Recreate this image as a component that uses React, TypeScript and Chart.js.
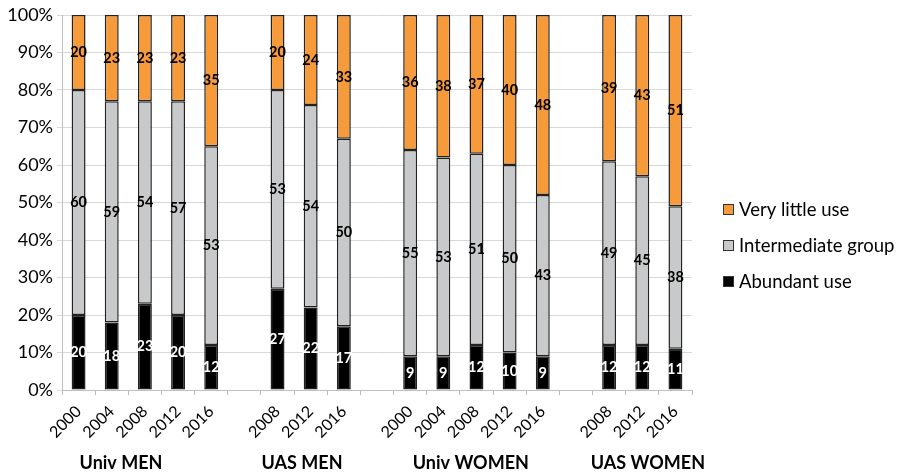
import React, { useEffect, useRef } from "react";
import { Chart, registerables } from "chart.js";

Chart.register(...registerables);

const categories = [
  "2000", "2004", "2008", "2012", "2016", "",
  "2008", "2012", "2016", "",
  "2000", "2004", "2008", "2012", "2016", "",
  "2008", "2012", "2016",
];

const abundantUse = [20, 18, 23, 20, 12, null, 27, 22, 17, null, 9, 9, 12, 10, 9, null, 12, 12, 11];
const intermediateGroup = [60, 59, 54, 57, 53, null, 53, 54, 50, null, 55, 53, 51, 50, 43, null, 49, 45, 38];
const veryLittleUse = [20, 23, 23, 23, 35, null, 20, 24, 33, null, 36, 38, 37, 40, 48, null, 39, 43, 51];

const groupNames = ["Univ MEN", "UAS MEN", "Univ WOMEN", "UAS WOMEN"];
const groupAnchors = [1.28, 6.74, 11.83, 17.17];

const yTicks = [0, 10, 20, 30, 40, 50, 60, 70, 80, 90, 100];

const FONT = "Lato, 'Open Sans', sans-serif";

const seriesColors = {
  abundant: "#000000",
  intermediate: "#c8c9ca",
  little: "#f79a3a",
};

const dataLabelPlugin = {
  id: "dataLabels",
  afterDatasetsDraw(chart: any) {
    const ctx = chart.ctx;
    ctx.save();
    ctx.font = `bold 14.5px ${FONT}`;
    ctx.textAlign = "center";
    ctx.textBaseline = "middle";
    chart.data.datasets.forEach((ds: any, di: number) => {
      const meta = chart.getDatasetMeta(di);
      meta.data.forEach((el: any, i: number) => {
        const v = ds.data[i];
        if (v === null || v === undefined) return;
        ctx.fillStyle = ds.labelColor;
        ctx.fillText(String(v), el.x, (el.y + el.base) / 2);
      });
    });
    ctx.restore();
  },
};

const extrasPlugin = {
  id: "extras",
  afterDraw(chart: any) {
    const ctx = chart.ctx;
    const area = chart.chartArea;
    const xs = chart.scales.x;
    ctx.save();
    // group labels
    ctx.font = `bold 18px ${FONT}`;
    ctx.fillStyle = "#000";
    ctx.textAlign = "center";
    ctx.textBaseline = "middle";
    groupNames.forEach((name, i) => {
      ctx.fillText(name, xs.getPixelForValue(groupAnchors[i]), area.bottom + 73);
    });
    // legend
    const items = [...chart.data.datasets].reverse();
    const mid = (area.top + area.bottom) / 2;
    ctx.font = `18.5px ${FONT}`;
    ctx.textAlign = "left";
    items.forEach((ds: any, i: number) => {
      const cy = mid + 7 + i * 36;
      const sx = area.right + 31;
      ctx.fillStyle = ds.backgroundColor;
      ctx.fillRect(sx, cy - 5.5, 11, 11);
      ctx.strokeStyle = "#333";
      ctx.lineWidth = 1;
      ctx.strokeRect(sx + 0.5, cy - 5, 10, 10);
      ctx.fillStyle = "#000";
      ctx.fillText(ds.label, sx + 16, cy + 1);
    });
    ctx.restore();
  },
};

export default function App() {
  const ref = useRef<HTMLCanvasElement | null>(null);
  useEffect(() => {
    if (!ref.current) return;
    const common = {
      borderColor: "#222",
      borderWidth: 1.5,
      borderSkipped: false,
      barPercentage: 0.42,
      categoryPercentage: 1,
    };
    const chart = new Chart(ref.current, {
      type: "bar",
      data: {
        labels: categories,
        datasets: [
          { label: "Abundant use", data: abundantUse, backgroundColor: seriesColors.abundant, labelColor: "#fff", ...common } as any,
          { label: "Intermediate group", data: intermediateGroup, backgroundColor: seriesColors.intermediate, labelColor: "#000", ...common } as any,
          { label: "Very little use", data: veryLittleUse, backgroundColor: seriesColors.little, labelColor: "#000", ...common } as any,
        ],
      },
      options: {
        responsive: false,
        animation: false,
        layout: { padding: { top: 15, right: 208, left: 0, bottom: 0 } },
        plugins: { legend: { display: false }, tooltip: { enabled: false } },
        scales: {
          x: {
            stacked: true,
            grid: { offset: true, drawOnChartArea: false, drawTicks: true, tickLength: 5, color: "#bfbfbf" },
            border: { color: "#bfbfbf" },
            ticks: { minRotation: 45, maxRotation: 45, autoSkip: false, color: "#000", font: { family: FONT, size: 16 }, padding: 7 },
            afterFit: (s: any) => { s.height = 85; },
          },
          y: {
            stacked: true,
            min: 0,
            max: 100,
            grid: { color: "#d9d9d9", tickLength: 5 },
            border: { color: "#bfbfbf" },
            afterBuildTicks: (s: any) => { s.ticks = yTicks.map((v) => ({ value: v })); },
            ticks: { color: "#000", font: { family: FONT, size: 18 }, padding: 4, callback: (v: any) => v + "%" },
            afterFit: (s: any) => { s.width = 62; },
          },
        },
      },
      plugins: [dataLabelPlugin, extrasPlugin],
    });
    return () => chart.destroy();
  }, []);
  return (
    <div style={{ position: "fixed", left: 0, top: 0, width: 900, height: 475, background: "#fff" }}>
      <canvas ref={ref} width={900} height={475} style={{ width: 900, height: 475 }} />
    </div>
  );
}
